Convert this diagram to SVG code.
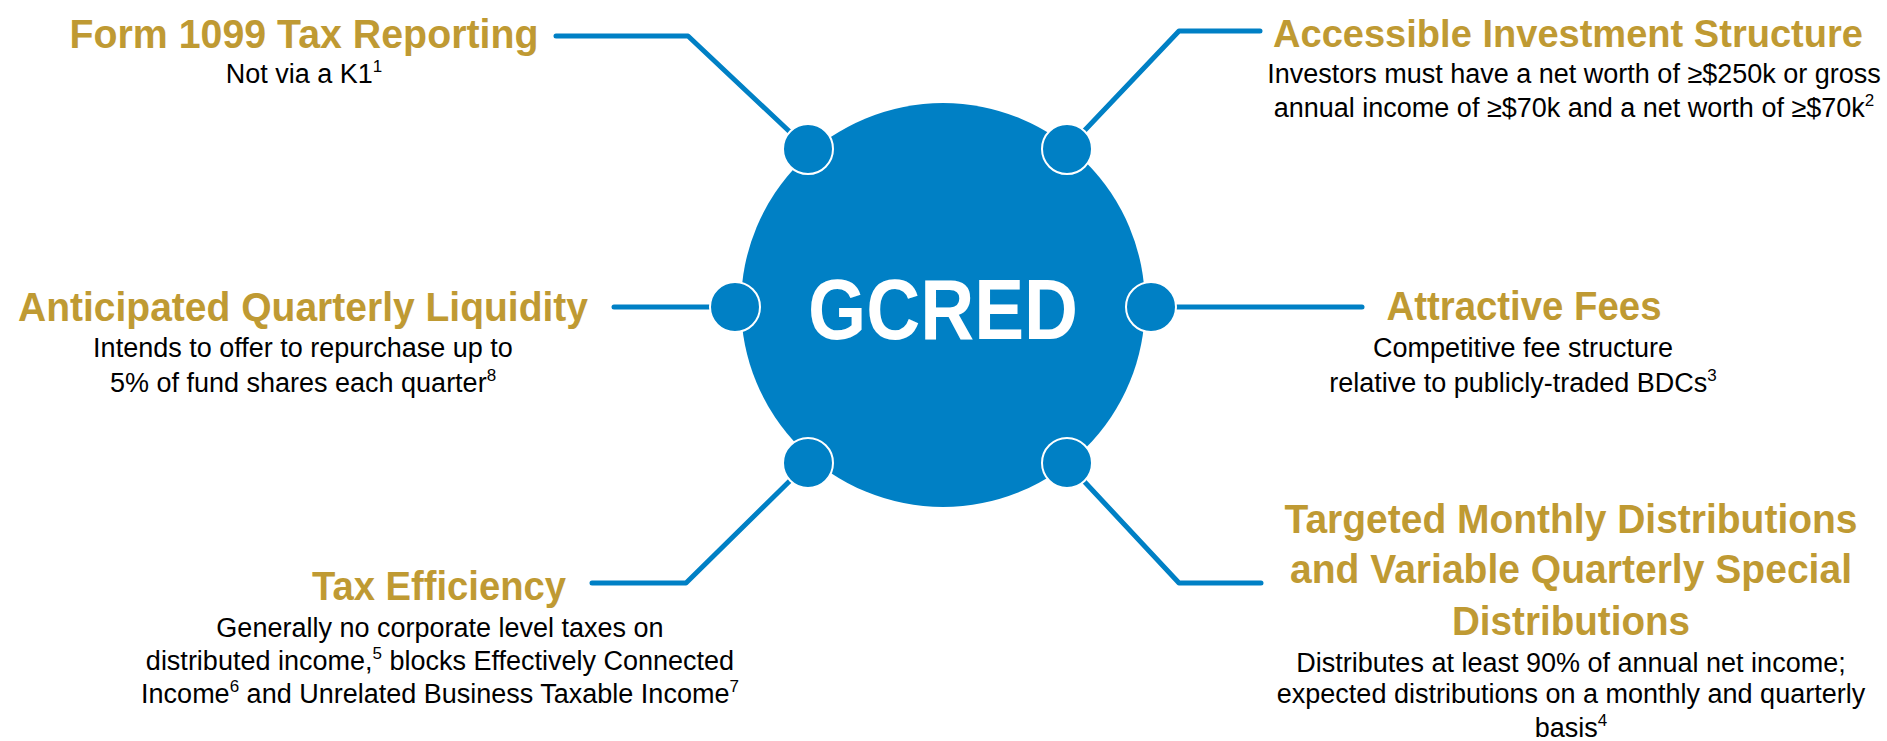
<svg xmlns="http://www.w3.org/2000/svg" width="1887" height="741" viewBox="0 0 1887 741">
<style>
.ln{fill:none;stroke:#0080C5;stroke-width:5;stroke-linecap:round;stroke-linejoin:round}
.dot{fill:#0080C5;stroke:#fff;stroke-width:2}
.h{font-family:"Liberation Sans",Arial,sans-serif;font-weight:bold;font-size:40px;fill:#BF9A33;text-anchor:middle}
.b{font-family:"Liberation Sans",Arial,sans-serif;font-size:27px;fill:#000;text-anchor:middle}
.s{font-size:17px}
</style>
<rect width="1887" height="741" fill="#fff"/>
<g id="connectors">
<polyline class="ln" points="556,36 688,36 808,149"/>
<polyline class="ln" points="1260,31 1179,31 1067,149"/>
<polyline class="ln" points="614,307 735,307"/>
<polyline class="ln" points="1151,307 1362,307"/>
<polyline class="ln" points="592,583 686,583 808,463"/>
<polyline class="ln" points="1261,583 1179,583 1067,463"/>
</g>
<g id="hub">
<circle cx="943" cy="305" r="202" fill="#0080C5"/>
<text x="943" y="339" font-family="'Liberation Sans',Arial,sans-serif" font-weight="bold" font-size="86" fill="#fff" text-anchor="middle" textLength="270" lengthAdjust="spacingAndGlyphs">GCRED</text>
</g>
<g id="dots">
<circle class="dot" cx="808" cy="149" r="25"/>
<circle class="dot" cx="1067" cy="149" r="25"/>
<circle class="dot" cx="735" cy="307" r="25"/>
<circle class="dot" cx="1151" cy="307" r="25"/>
<circle class="dot" cx="808" cy="463" r="25"/>
<circle class="dot" cx="1067" cy="463" r="25"/>
</g>
<g id="form1099">
<text class="h" x="304" y="48" textLength="469" lengthAdjust="spacingAndGlyphs">Form 1099 Tax Reporting</text>
<text class="b" x="304" y="83">Not via a K1<tspan class="s" dy="-11">1</tspan></text>
</g>
<g id="liquidity">
<text class="h" x="303" y="321" textLength="570" lengthAdjust="spacingAndGlyphs">Anticipated Quarterly Liquidity</text>
<text class="b" x="303" y="357">Intends to offer to repurchase up to</text>
<text class="b" x="303" y="392">5% of fund shares each quarter<tspan class="s" dy="-11">8</tspan></text>
</g>
<g id="taxefficiency">
<text class="h" x="439" y="600" textLength="254" lengthAdjust="spacingAndGlyphs">Tax Efficiency</text>
<text class="b" x="440" y="637">Generally no corporate level taxes on</text>
<text class="b" x="440" y="670">distributed income,<tspan class="s" dy="-11">5</tspan><tspan dy="11"> blocks Effectively Connected</tspan></text>
<text class="b" x="440" y="703">Income<tspan class="s" dy="-11">6</tspan><tspan dy="11"> and Unrelated Business Taxable Income</tspan><tspan class="s" dy="-11">7</tspan></text>
</g>
<g id="accessible">
<text class="h" x="1568" y="47" style="font-size:38px" textLength="590" lengthAdjust="spacingAndGlyphs">Accessible Investment Structure</text>
<text class="b" x="1574" y="83">Investors must have a net worth of ≥$250k or gross</text>
<text class="b" x="1574" y="117">annual income of ≥$70k and a net worth of ≥$70k<tspan class="s" dy="-11">2</tspan></text>
</g>
<g id="fees">
<text class="h" x="1524" y="320" textLength="275" lengthAdjust="spacingAndGlyphs">Attractive Fees</text>
<text class="b" x="1523" y="357">Competitive fee structure</text>
<text class="b" x="1523" y="392">relative to publicly-traded BDCs<tspan class="s" dy="-11">3</tspan></text>
</g>
<g id="distributions">
<text class="h" x="1571" y="533" textLength="573" lengthAdjust="spacingAndGlyphs">Targeted Monthly Distributions</text>
<text class="h" x="1571" y="583" textLength="562" lengthAdjust="spacingAndGlyphs">and Variable Quarterly Special</text>
<text class="h" x="1571" y="635" textLength="238" lengthAdjust="spacingAndGlyphs">Distributions</text>
<text class="b" x="1571" y="672">Distributes at least 90% of annual net income;</text>
<text class="b" x="1571" y="703">expected distributions on a monthly and quarterly</text>
<text class="b" x="1571" y="737">basis<tspan class="s" dy="-11">4</tspan></text>
</g>
</svg>
